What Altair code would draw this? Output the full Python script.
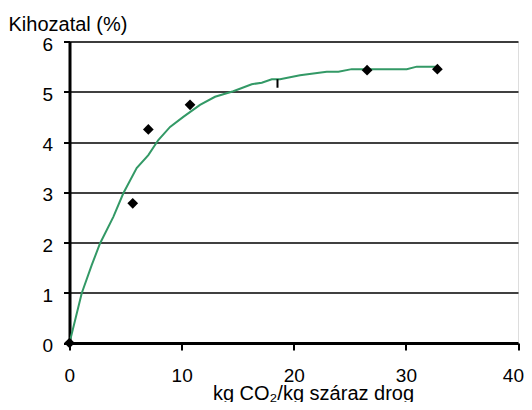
import altair as alt
import pandas as pd

# Fitted curve (green line)
curve_x = [0, 1.09, 1.98, 2.72, 3.91, 4.80, 5.99, 7.03, 7.92, 8.97, 10.15, 11.64, 12.98,
           14.61, 16.25, 17.15, 18.04, 18.78, 20.56, 22.94, 23.98, 25.17, 30.08, 30.97, 32.76]
curve_y = [0, 0.99, 1.55, 1.98, 2.51, 2.98, 3.48, 3.74, 4.04, 4.30, 4.50, 4.74, 4.90,
           5.01, 5.15, 5.18, 5.25, 5.25, 5.33, 5.40, 5.40, 5.45, 5.45, 5.50, 5.50]

# Measured points (black diamonds)
meas_x = [0, 5.64, 7.03, 10.75, 26.54, 32.81]
meas_y = [0, 2.78, 4.25, 4.74, 5.43, 5.45]

# Small vertical marker
mark_x = [18.55]
mark_y1 = [5.08]
mark_y2 = [5.25]

x_ticks = [0, 10, 20, 30, 40]
y_ticks = [0, 1, 2, 3, 4, 5, 6]

FONT = "Liberation Sans"

curve_df = pd.DataFrame({"x": curve_x, "y": curve_y})
meas_df = pd.DataFrame({"x": meas_x, "y": meas_y})
mark_df = pd.DataFrame({"x": mark_x, "y": mark_y1, "y2": mark_y2})

xscale = alt.Scale(domain=[0, 40], nice=False, zero=False)
yscale = alt.Scale(domain=[0, 6], nice=False, zero=False)

x_axis = alt.Axis(
    values=x_ticks, grid=False, title="kg CO₂/kg száraz drog",
    domainColor="black", domainWidth=3, tickColor="black", tickWidth=2, tickSize=7,
    labelFont=FONT, labelFontSize=19, labelColor="black", labelPadding=16,
    labelFlush=True, labelFlushOffset=5.5,
    titleFont=FONT, titleFontSize=20, titleFontWeight="normal", titleColor="black",
    titleX=243.5, titleY=56, titleAlign="center", titleBaseline="alphabetic",
)
y_axis = alt.Axis(
    values=y_ticks, grid=True, gridColor="black", gridWidth=1.5, gridOpacity=1,
    title="Kihozatal (%)",
    domainColor="black", domainWidth=3, tickColor="black", tickWidth=2, tickSize=6,
    labelFont=FONT, labelFontSize=19, labelColor="black", labelPadding=11,
    labelBaseline="middle", labelOffset=2.5,
    titleFont=FONT, titleFontSize=20, titleFontWeight="normal", titleColor="black",
    titleAngle=0, titleAlign="left", titleBaseline="alphabetic",
    titleX=-61.5, titleY=-11.5,
)

line = alt.Chart(curve_df).mark_line(color="#339966", strokeWidth=2).encode(
    x=alt.X("x:Q", scale=xscale, axis=x_axis),
    y=alt.Y("y:Q", scale=yscale, axis=y_axis),
)

points = alt.Chart(meas_df).mark_point(
    shape="diamond", filled=True, color="black", opacity=1, size=115
).encode(
    x=alt.X("x:Q", scale=xscale),
    y=alt.Y("y:Q", scale=yscale),
)

tick = alt.Chart(mark_df).mark_rule(color="black", strokeWidth=2).encode(
    x=alt.X("x:Q", scale=xscale),
    y=alt.Y("y:Q", scale=yscale),
    y2="y2:Q",
)

chart = alt.layer(line, tick, points).properties(
    width=448.5,
    height=301.5,
    autosize=alt.AutoSizeParams(type="none"),
    padding={"left": 61.5, "top": 33.5, "right": 6, "bottom": 59},
).configure_view(
    stroke="black", strokeWidth=2
).configure(background="white")

chart.save("out.html", embed_options={"renderer": "svg", "actions": False})
